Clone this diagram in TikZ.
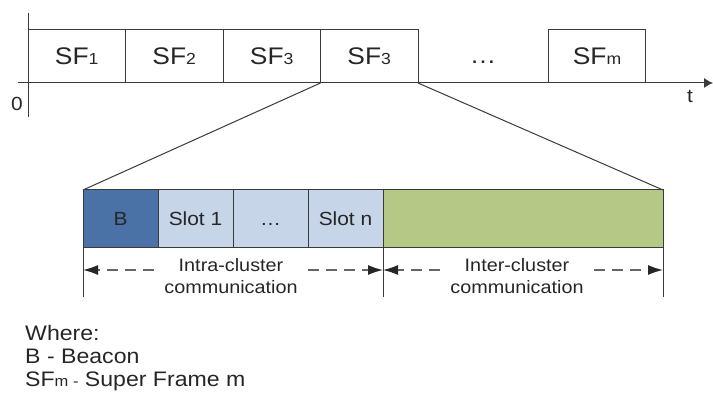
\documentclass[tikz,border=0pt]{standalone}
\usepackage{fontspec}
\setmainfont[FakeStretch=1.1]{Liberation Sans}
\usetikzlibrary{arrows.meta,positioning,calc}
\definecolor{beaconblue}{HTML}{4A72A6}
\definecolor{slotblue}{HTML}{C6D5E8}
\definecolor{intergreen}{HTML}{B4C985}
\definecolor{linegray}{HTML}{3A3A3A}
\newcommand{\smallsub}[1]{{\fontsize{16}{16}\selectfont #1}}

\begin{document}
\begin{tikzpicture}[x=1pt,y=-1pt,
  sfbox/.style={draw=linegray,line width=1pt,minimum width=97.5pt,minimum height=53pt,
    inner sep=0pt,outer sep=0pt,text height=17pt,text depth=0pt,text=black!85,
    font=\fontsize{24}{24}\selectfont},
  slotbox/.style={draw=linegray,line width=1pt,minimum width=75pt,minimum height=58pt,
    inner sep=0pt,outer sep=0pt,text height=13.6pt,text depth=0pt,text=black!85,
    font=\fontsize{19}{19}\selectfont},
  dimtext/.style={align=center,inner sep=0pt,text=black!85,font=\fontsize{18}{22}\selectfont},
  dimline/.style={dashed,dash pattern=on 11pt off 7pt,line width=1.3pt,draw=black!60,
    shorten <=10pt,-{Latex[length=15pt,width=10pt,color=black!85]}},
  legend/.style={anchor=base west,inner sep=0pt,text=black!85,font=\fontsize{21}{21}\selectfont},
  ]
\useasboundingbox (0,0) rectangle (713,401);
% time axis
\coordinate (origin) at (28,83);
\coordinate (ytop) at (28,13);
\coordinate (ybot) at (28,117);
\coordinate (xstart) at (18,83);
\coordinate (xend) at (713,83);
\draw[line width=1pt,draw=linegray] (ytop) -- (ybot);
\draw[line width=1pt,draw=linegray,-{Latex[length=9pt,width=10pt]}] (xstart) -- (xend);
\node[font=\fontsize{19}{19}\selectfont,text=black!85] (zero) at (17,104) {0};
\node[font=\fontsize{19}{19}\selectfont,text=black!85] (tlabel) at (690,96) {t};
% the super frames
\node[sfbox] (sf1) at (76.75,56.5) {SF\smallsub{1}};
\node[sfbox,right=0pt of sf1] (sf2) {SF\smallsub{2}};
\node[sfbox,right=0pt of sf2] (sf3) {SF\smallsub{3}};
\node[sfbox,right=0pt of sf3] (sf4) {SF\smallsub{3}};
\node[anchor=base,font=\fontsize{24}{24}\selectfont,text=black!85] (sfdots) at (483,64) {\dots};
\node[sfbox] (sfm) at (597,56.5) {SF\smallsub{m}};
% one super frame in detail
\node[slotbox,fill=beaconblue,anchor=north west] (beacon) at (83,190) {B};
\node[slotbox,fill=slotblue,right=0pt of beacon] (slot1) {Slot 1};
\node[slotbox,fill=slotblue,right=0pt of slot1] (slotdots) {\dots};
\node[slotbox,fill=slotblue,right=0pt of slotdots] (slotn) {Slot n};
\node[slotbox,fill=intergreen,minimum width=280pt,right=0pt of slotn] (inter) {};
% zoom lines
\draw[line width=1pt,draw=linegray] (sf4.south west) -- (beacon.north west);
\draw[line width=1pt,draw=linegray] (sf4.south east) -- (inter.north east);
% the ticks and the spans
\coordinate (d1) at (83,270);
\coordinate (d2) at (383,270);
\coordinate (d3) at (663,270);
\foreach \t in {1,2,3}
  \draw[line width=1pt,draw=linegray] (d\t |- 0,248) -- (d\t |- 0,297);
\node[dimtext,anchor=north] (intra) at (231,258.5) {Intra-cluster\\communication};
\node[dimtext,anchor=north] (intercomm) at (517,258.5) {Inter-cluster\\communication};
\draw[dimline] (intra.west |- d1) -- (d1);
\draw[dimline] (intra.east |- d2) -- (d2);
\draw[dimline] (intercomm.west |- d2) -- (d2);
\draw[dimline] (intercomm.east |- d3) -- (d3);
% the legend
\node[legend] (where) at (25,340) {Where:};
\node[legend] (legb) at (25,363) {B - Beacon};
\node[legend] (legsf) at (25,386) {SF{\fontsize{15}{15}\selectfont m -} Super Frame m};
\end{tikzpicture}
\end{document}
